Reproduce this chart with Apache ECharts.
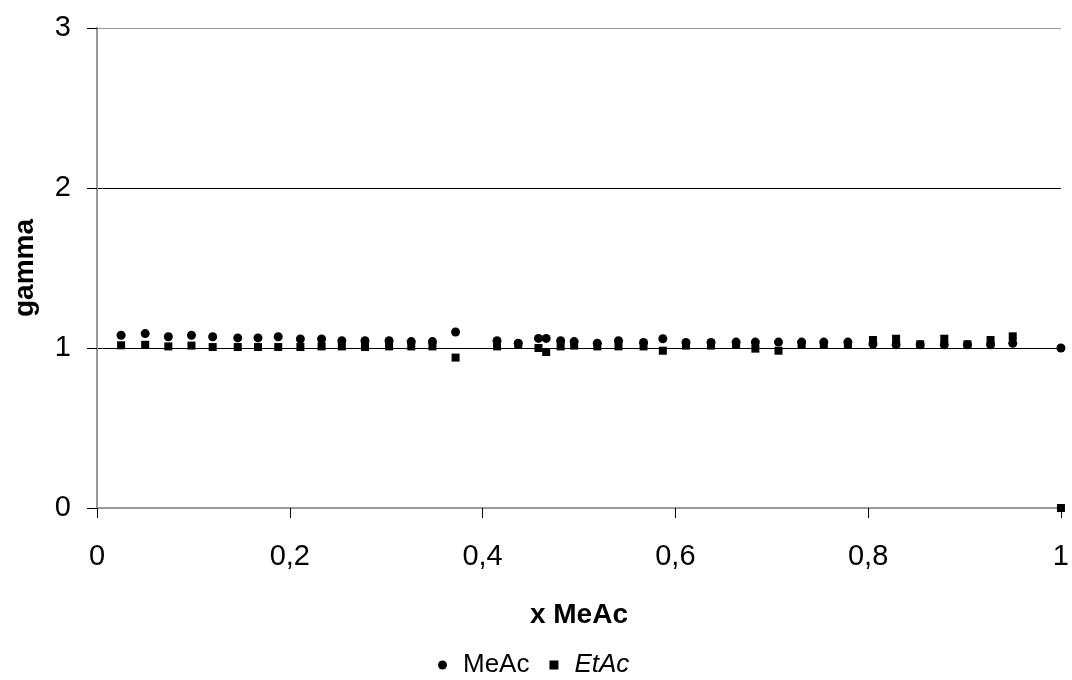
<!DOCTYPE html>
<html>
<head>
<meta charset="utf-8">
<script src="https://cdn.jsdelivr.net/npm/echarts@6/dist/echarts.min.js"></script>
<style>
html,body{margin:0;padding:0;background:#fff;}
#chart{width:1072px;height:680px;}
</style>
</head>
<body>
<div id="chart"></div>
<script>
const xMeAc = [0.025, 0.05, 0.074, 0.098, 0.12, 0.146, 0.167, 0.188, 0.211, 0.233, 0.254, 0.278, 0.303, 0.326, 0.348, 0.372, 0.415, 0.437, 0.458, 0.466, 0.481, 0.495, 0.519, 0.541, 0.567, 0.587, 0.611, 0.637, 0.663, 0.683, 0.707, 0.731, 0.754, 0.779, 0.805, 0.829, 0.854, 0.879, 0.903, 0.927, 0.950, 1.0];
const gammaMeAc = [1.08, 1.09, 1.07, 1.08, 1.07, 1.063, 1.063, 1.07, 1.056, 1.056, 1.046, 1.046, 1.046, 1.04, 1.04, 1.10, 1.046, 1.03, 1.06, 1.06, 1.046, 1.04, 1.03, 1.046, 1.035, 1.058, 1.035, 1.035, 1.037, 1.037, 1.037, 1.037, 1.037, 1.037, 1.025, 1.02, 1.02, 1.02, 1.02, 1.02, 1.03, 1.0];
const gammaEtAc = [1.017, 1.02, 1.01, 1.015, 1.006, 1.006, 1.006, 1.006, 1.006, 1.01, 1.01, 1.006, 1.01, 1.01, 1.01, 0.94, 1.01, 1.02, 1.0, 0.975, 1.01, 1.015, 1.01, 1.01, 1.01, 0.983, 1.015, 1.015, 1.02, 0.996, 0.983, 1.02, 1.02, 1.02, 1.05, 1.058, 1.023, 1.058, 1.023, 1.05, 1.073, 0];
const xTickLabels = ['0', '0,2', '0,4', '0,6', '0,8', '1'];
const yTickLabels = ['0', '1', '2', '3'];
const seriesNames = ['MeAc', 'EtAc'];
const xTitle = 'x MeAc';
const yTitle = 'gamma';

const FONT = '"Liberation Sans", Arial, sans-serif';
const chart = echarts.init(document.getElementById('chart'), null, {renderer: 'canvas'});
const pairs = (xs, ys) => xs.map((x, i) => [x, ys[i]]);

chart.setOption({
  animation: false,
  backgroundColor: '#fff',
  grid: {left: 97, right: 5, top: 28, bottom: 172},
  xAxis: [{
    type: 'value', min: 0, max: 1, interval: 0.2,
    name: xTitle, nameLocation: 'middle', nameGap: 93,
    nameTextStyle: {fontFamily: FONT, fontSize: 28, fontWeight: 'bold', color: '#000'},
    axisLine: {show: true, onZero: false, lineStyle: {color: '#000', width: 1}},
    axisTick: {show: true, inside: false, length: 10, lineStyle: {color: '#000'}},
    axisLabel: {fontFamily: FONT, fontSize: 29, color: '#000', margin: 34,
      formatter: (v) => xTickLabels[Math.round(v / 0.2)]},
    splitLine: {show: false}
  }, {
    type: 'value', min: 0, max: 1, position: 'top',
    axisLine: {show: true, lineStyle: {color: '#999', width: 2}},
    axisTick: {show: false}, axisLabel: {show: false}, splitLine: {show: false}
  }],
  yAxis: [{
    type: 'value', min: 0, max: 3, interval: 1,
    name: yTitle, nameLocation: 'middle', nameGap: 58,
    nameTextStyle: {fontFamily: FONT, fontSize: 28, fontWeight: 'bold', color: '#000'},
    axisLine: {show: true, onZero: false, lineStyle: {color: '#000', width: 1}},
    axisTick: {show: true, inside: false, length: 10, lineStyle: {color: '#000'}},
    axisLabel: {fontFamily: FONT, fontSize: 29, color: '#000', margin: 26,
      formatter: (v) => yTickLabels[Math.round(v)]},
    splitLine: {show: true, lineStyle: {color: ['#000', '#000', '#000', '#999'], width: 1}}
  }, {
    type: 'value', min: 0, max: 3, position: 'right',
    axisLine: {show: true, lineStyle: {color: '#999', width: 2}},
    axisTick: {show: false}, axisLabel: {show: false}, splitLine: {show: false}
  }],
  legend: {
    left: 438, top: 652, padding: 0,
    itemWidth: 31, itemHeight: 9, itemGap: 20,
    symbolKeepAspect: true,
    data: [
      {name: seriesNames[0], icon: 'circle', itemStyle: {color: '#000', opacity: 1}},
      {name: seriesNames[1], icon: 'path://M0,0H10V10H0Z', itemStyle: {color: '#000', opacity: 1}}
    ],
    formatter: (n) => n === seriesNames[1] ? '{i|' + n + '}' : '{n|' + n + '}',
    textStyle: {fontFamily: FONT, fontSize: 26, color: '#000',
      rich: {
        i: {fontFamily: FONT, fontSize: 26, fontStyle: 'italic', color: '#000'},
        n: {fontFamily: FONT, fontSize: 26, color: '#000'}
      }}
  },
  series: [{
    name: seriesNames[0], type: 'scatter', symbol: 'circle', symbolSize: 9,
    itemStyle: {color: '#000', opacity: 1}, clip: false,
    data: pairs(xMeAc, gammaMeAc)
  }, {
    name: seriesNames[1], type: 'scatter', symbol: 'rect', symbolSize: 8,
    itemStyle: {color: '#000', opacity: 1}, clip: false,
    data: pairs(xMeAc, gammaEtAc)
  }]
});
</script>
</body>
</html>
